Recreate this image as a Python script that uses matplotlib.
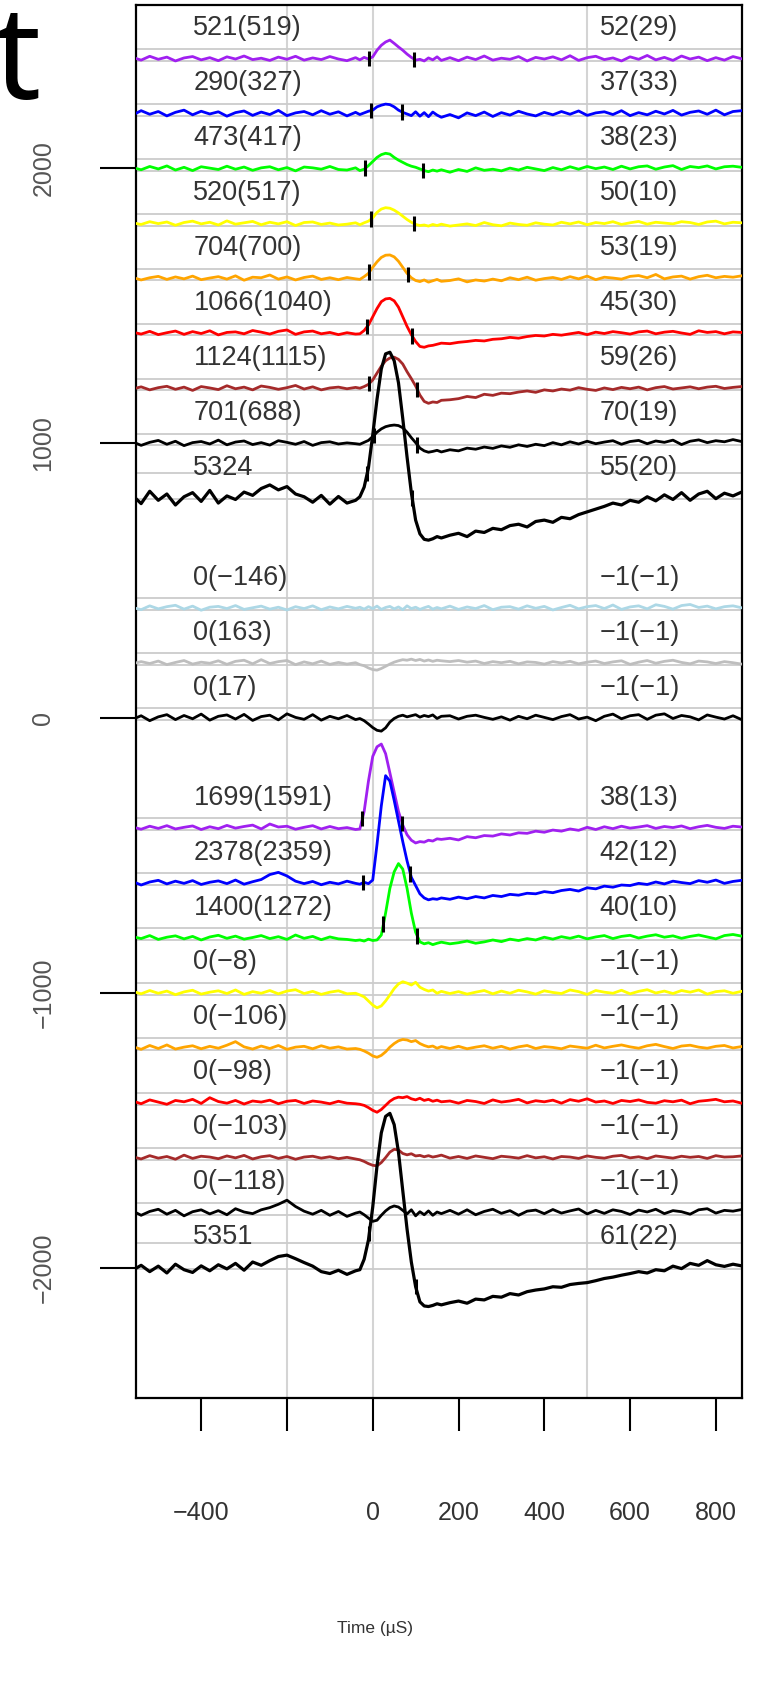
import matplotlib
matplotlib.use('Agg')
import matplotlib.pyplot as plt
import numpy as np

plt.rcParams['font.family'] = ['Liberation Sans', 'DejaVu Sans']

# time axis (uS): 20 uS steps away from the response, 10 uS steps around it
time = np.concatenate([np.arange(-560, -39, 20), np.arange(-30, 161, 10), np.arange(180, 861, 20)])

# vertical offset of every trace, top to bottom
offsets = [2400, 2200, 2000, 1800, 1600, 1400, 1200, 1000, 800, 400, 200, 0,
           -400, -600, -800, -1000, -1200, -1400, -1600, -1800, -2000]

colors = ['#A020F0', '#0000FF', '#00FF00', '#FFFF00', '#FFA500', '#FF0000', '#A52A2A', 'black', 'black',
          '#ADD8E6', '#BEBEBE', 'black',
          '#A020F0', '#0000FF', '#00FF00', '#FFFF00', '#FFA500', '#FF0000', '#A52A2A', 'black', 'black']

left_labels = ['521(519)', '290(327)', '473(417)', '520(517)', '704(700)', '1066(1040)', '1124(1115)',
               '701(688)', '5324', '0(−146)', '0(163)', '0(17)', '1699(1591)', '2378(2359)',
               '1400(1272)', '0(−8)', '0(−106)', '0(−98)', '0(−103)', '0(−118)', '5351']
right_labels = ['52(29)', '37(33)', '38(23)', '50(10)', '53(19)', '45(30)', '59(26)', '70(19)', '55(20)',
                '−1(−1)', '−1(−1)', '−1(−1)', '38(13)', '42(12)', '40(10)', '−1(−1)', '−1(−1)',
                '−1(−1)', '−1(−1)', '−1(−1)', '61(22)']

# onset / offset marks (uS), None where no response was detected
marks = [(-8, 97), (-3, 69), (-17, 118), (-3, 97), (-8, 83), (-13, 92), (-8, 104), (3, 104), (-13, 92),
         None, None, None,
         (-24, 69), (-22, 88), (25, 104), None, None, None, None, None, (-8, 100)]

# traces, relative to their offset
purple_1 = [4, -6, 8, -3, 5, -9, 2, 7, -5, 3, -8, 6, -2, 9, -4, 1, -7, 5, -3, 8, -6, 2, -4, 7, -2, -8, 3,
            -5, 4, -2, 6, 30, 48, 60, 67, 55, 42, 30, 16, 4, -6, -3, -9, 2, -5, 6, -7,
            3, -8, 5, -4, 9, -6, 1, -3, 7, -9, 4, -2, 6, -5, 10, -7, 3, 8, -4, 2, -9, 6, -3, 11, -5, 4, -7, 9,
            -2, 5, -8, 3, -6, 7, -1]
blue_1 = [-6, 10, -3, 7, -9, 4, 12, -5, 8, -2, 6, -10, 3, 9, -7, 5, -4, 11, -8, 2, 7, -5, 10, -3, 6, -9, 4,
          -4, 2, 8, 12, 24, 30, 34, 32, 24, 12, 4, -2, -8, 6, -10, 3, -12, 5, -6, -14,
          -4, -16, 2, -8, 5, -11, 3, -6, 8, -2, -9, 4, -5, 7, -3, 9, -7, 2, 6, -4, 10, -8, 3, -5, 8, -2, 11,
          -6, 4, 9, -3, 12, -5, 7, 10]
green_1 = [3, -5, 7, -2, 9, -6, 4, -8, 6, 1, -4, 8, -3, 5, -7, 2, 6, -5, 3, -9, 5, 2, -3, 7, -4, -6, 2,
           -8, -3, 10, 25, 40, 50, 55, 52, 40, 30, 22, 14, 8, 4, -2, -8, -12, -6, -10, -5,
           -14, -4, -11, 2, -7, -3, -9, 1, -6, 4, -2, -8, 3, -5, 6, -3, 7, -1, 5, -4, 8, -2, 6, 9, -3, 5, 10,
           -4, 7, 3, 9, -2, 6, 8, 4]
yellow_1 = [2, -4, 6, -1, 5, -7, 3, 8, -2, 4, -6, 9, -3, 2, 7, -5, 4, -2, 6, -8, 3, 5, -4, 1, -6, -3, 2,
            -5, 2, 8, 20, 40, 52, 57, 55, 48, 38, 26, 14, 4, -4, -8, -6, -10, -4, -8, -3,
            -10, -6, -2, -8, 3, -5, -9, 1, -4, -7, 2, -3, -6, 4, -2, 5, -5, 3, -1, 6, -4, 2, 7, -3, 4, 1, -2,
            6, 3, -4, 5, 8, -2, 4, 2]
orange_1 = [3, -6, 2, 7, -4, 5, -2, 8, -5, 1, 6, -3, 9, -7, 4, 2, 12, -3, 5, -6, 3, 8, -4, 2, -5, 3, -2,
            -4, 6, 18, 40, 60, 76, 84, 85, 78, 62, 40, 18, 2, -8, -12, -6, -14, -9, -4, -11,
            -8, -2, -13, -6, -10, -3, -9, 2, -5, 4, -7, -1, 3, -4, 6, -2, 8, -5, 4, 1, -3, 7, 10, 2, 14, -2, 5,
            8, -3, 6, 11, 2, 7, 4, 9]
red_1 = [4, -3, 7, -5, 2, 8, -4, 6, -1, 9, -6, 3, 5, -2, 10, 4, -3, 7, 12, -4, 5, 8, -2, 3, -5, 2, -3,
         -2, 10, 30, 60, 90, 115, 125, 127, 118, 95, 60, 25, -5, -30, -48, -51, -46, -44, -40, -36,
         -38, -33, -30, -26, -28, -22, -20, -15, -18, -12, -8, -10, -4, -7, -2, 3, -5, 4, -1, 6, 2, -3, 5, 8,
         -2, 4, 7, 1, -4, 9, 3, 6, -2, 5, 3]
brown_1 = [-3, 5, -6, 2, 7, -4, 4, -8, 6, 1, -5, 9, -2, 4, -6, 8, 3, -4, 2, 10, -3, 5, -6, 1, 4, -2, 3,
           0, 6, 14, 30, 55, 80, 100, 110, 113, 105, 88, 60, 35, 8, -25, -48, -55, -50, -52, -44,
           -42, -38, -30, -34, -22, -26, -18, -20, -14, -10, -15, -6, -10, -3, -7, 2, -4, -8, 1, -5, 3, -2, 4,
           -6, 2, 6, -3, 1, 5, -2, 4, 7, -1, 3, 6]
black_1 = [5, -8, 3, 10, -4, 7, -9, 2, 6, -3, 11, -6, 4, 8, -5, 2, -7, 9, 3, -4, 6, -8, 2, 5, -3, 1, -2,
           -4, 3, 10, 24, 40, 52, 60, 64, 66, 64, 56, 40, 20, 2, -18, -28, -33, -30, -26, -32,
           -24, -28, -18, -22, -14, -19, -10, -15, -6, -12, -4, -9, 2, -6, 5, -3, 7, -2, 4, 9, -4, 6, 10, -2,
           8, 3, 11, -5, 7, 12, 2, 9, 5, 13, 6]
sum_1 = [10, -20, 25, -8, 15, -25, 5, 20, -12, 28, -18, 8, -5, 22, 10, 35, 48, 30, 42, 15, 5, -15, 10, -22, 6,
         -18, -8,
         5, 40, 110, 230, 360, 470, 525, 531, 500, 420, 290, 150, 20, -80, -130, -150, -153, -148, -140, -145,
         -135, -128, -140, -120, -125, -110, -115, -100, -95, -105, -85, -80, -88, -70, -75, -60, -50, -40,
         -30, -18, -25, -8, -15, 5, -10, 12, -5, 20, -8, 15, 25, -2, 18, 8, 22]
lightblue_0 = [2, -6, 8, -3, 5, 10, -4, 7, -8, 3, 6, -2, 9, -5, 1, 7, -4, 3, -7, 5, -2, 8, -6, 4, -3, 6, -1,
               3, -4, 5, -2, 7, -5, 2, 6, -3, 4, -6, 8, -2, 3, -5, 1, 6, -4, 2, -3,
               7, -5, 4, -2, 9, -6, 3, 5, -4, 8, -1, 6, -7, 2, 10, -3, 5, 9, -2, 11, -5, 4, 8, -3, 12, 6, -4,
               9, 13, 2, 7, -3, 5, 8, 1]
grey_0 = [-3, 5, -2, 7, -6, 2, 9, -4, 3, -1, 8, -5, 6, 10, -3, 12, -2, 5, 9, -6, 4, -3, 7, -5, 2, -4, 1,
          -6, -10, -18, -24, -26, -20, -12, -4, 3, 8, 12, 10, 14, 9, 13, 7, 11, 6, 10, 8,
          5, 9, 3, 7, -2, 5, 1, 6, -3, 4, 2, -4, 5, 0, 6, -3, 3, 7, -2, 4, 8, -5, 3, 9, -1, 6, 10, 2, -3,
          7, 4, -2, 5, 1, -4]
black_0 = [-5, 8, -10, 4, 12, -6, 9, -3, 14, -8, 6, 11, -4, 13, -9, 5, 10, -7, 15, 2, -5, 12, -8, 6, -3, 9, -6,
           -2, -10, -22, -35, -45, -48, -36, -15, -2, 6, 10, 4, 8, 12, 3, 9, 5, 11, -2, 6,
           8, -4, 6, 10, 2, -5, 4, -8, 6, -3, 10, 2, -6, 5, 12, -4, 3, -10, 6, 14, -3, 8, 12, -5, 10, 15, -2,
           9, 4, -7, 11, 3, -4, 8, -6]
purple_2 = [3, -5, 6, -2, 8, -4, 2, 7, -6, 4, -3, 9, -1, 5, 10, -4, 14, 3, 6, -5, 2, 8, -4, 5, -3, 1, -6,
            -4, 60, 170, 260, 295, 305, 270, 200, 130, 60, 10, -25, -45, -55, -50, -52, -45, -48, -40, -42,
            -38, -44, -32, -36, -28, -30, -22, -26, -18, -20, -12, -16, -8, -12, -4, -9, 2, -6, 4, -3, 6, -1,
            3, 8, -2, 5, 1, 7, -3, 4, 9, 2, -2, 6, 3]
blue_2 = [5, -8, 3, 9, -4, 6, -2, 8, -6, 2, 7, -3, 10, -5, 4, 12, 30, 38, 25, 6, -3, 5, -7, 2, -4, 6, -2,
          -5, 2, -3, 10, 140, 280, 390, 370, 300, 225, 150, 80, 20, -10, -40, -55, -62, -58, -60, -55,
          -60, -52, -58, -50, -55, -46, -50, -42, -45, -38, -40, -32, -36, -28, -24, -30, -18, -22, -12, -16,
          -8, -10, -2, -6, 3, -4, 6, 1, -3, 8, 2, 10, -2, 5, 9]
green_2 = [4, -3, 8, -6, 2, 7, -4, 5, -8, 3, 9, -2, 6, -5, 1, 8, -3, 4, -6, 10, -2, 5, -7, 3, -4, -6, -10,
           -8, -12, -5, -10, -8, 10, 90, 180, 240, 270, 250, 180, 90, 20, -15, -22, -18, -25, -20, -16,
           -22, -18, -12, -20, -15, -8, -14, -5, -10, -3, -8, 2, -5, 4, -2, 6, -4, 3, 8, -3, 5, 9, -1, 6, 11,
           2, 7, -2, 5, 10, 3, -4, 8, 12, 6]
yellow_2 = [5, -4, 8, -2, 6, -7, 3, 9, -5, 2, 7, -3, 10, -6, 4, -2, 8, -4, 6, 11, -3, 5, -6, 2, 7, -4, -2,
            -8, -15, -30, -45, -55, -48, -30, -8, 15, 32, 40, 35, 28, 38, 20, 12, 6, 10, -2, 5,
            -3, 4, -5, 2, 8, -4, 6, -2, 9, 3, -5, 7, 1, -3, 10, 4, -6, 8, 2, -2, 9, -4, 5, 11, -1, 6, -3, 8,
            2, 10, -5, 4, 7, -2, 5]
orange_2 = [4, -6, 8, -3, 10, -5, 2, 7, -4, 5, -2, 9, 22, 3, -5, 6, -3, 8, -6, 2, 5, -4, 7, -2, 3, -5, -3,
            -6, -12, -20, -30, -35, -28, -15, 2, 15, 25, 30, 28, 22, 26, 15, 8, 3, 6, -2, 4,
            -3, 5, -4, 2, 7, -2, 5, -5, 3, 8, -3, 4, 1, -4, 6, 2, -2, 9, -1, 5, 10, 3, -2, 7, 12, 4, -3, 6,
            9, 2, -2, 5, 8, -1, 4]
red_2 = [6, -4, 10, 2, -6, 8, 3, 12, -3, 18, 4, -2, 8, -5, 6, 2, 9, -4, 5, 8, -3, 6, 2, -4, 5, -2, -4,
         -6, -10, -18, -28, -35, -25, -10, 5, 15, 20, 18, 22, 14, 10, 16, 8, 12, 5, 9, 3,
         6, -2, 8, 4, -3, 10, 2, 6, 12, -1, 7, 3, 9, -2, 11, 5, 14, 2, 6, -3, 8, 4, 10, 1, -2, 7, 3, 9, -4,
         5, 8, 12, 3, 6, -2]
brown_2 = [3, -5, 7, -2, 4, -6, 9, -3, 5, 2, -4, 6, -1, 8, -5, 3, 7, -3, 4, -6, 2, 5, -2, 3, -4, 1, -5,
           -8, -14, -22, -28, -30, -18, 0, 20, 30, 28, 15, 10, 14, 6, 8, 3, 7, 2, 5, 9,
           -2, 4, -3, 6, 1, -4, 5, 2, -2, 7, -1, 3, -5, 4, 2, -3, 6, 1, -2, 5, 8, -1, 3, -4, 6, 2, -2, 5, 1,
           4, -3, 7, 2, 3, 6]
black_2 = [6, -10, 4, 12, -6, 8, -12, 3, 10, -5, 7, -8, 14, 2, -4, 10, 18, 30, 45, 22, 5, -6, 8, -10, 4, -14,
           -2,
           2, -8, -20, -32, -28, -10, 6, 18, 24, 20, 8, -5, 10, -12, 3, -8, 6, -10, 2, -4,
           8, -6, 10, -8, 4, 12, -3, 7, -10, 5, 9, -4, 11, -2, 6, 13, -5, 8, -3, 10, 4, -7, 9, 2, 12, -4, 7,
           3, -6, 10, 14, -2, 8, 5, 11]
sum_2 = [-10, 8, -15, 5, -20, 12, -8, -18, 6, -12, 10, -5, 15, -10, 20, 8, 25, 40, 45, 32, 18, 5, -15, -22,
         -10, -25, -12,
         -8, 30, 100, 220, 370, 490, 550, 561, 520, 420, 280, 140, 20, -70, -125, -140, -142, -138, -132, -136,
         -128, -122, -130, -115, -118, -105, -108, -95, -100, -88, -82, -78, -70, -72, -62, -58, -55, -48,
         -40, -35, -28, -22, -15, -20, -8, -12, 5, -4, 15, 8, 25, 10, 4, 12, 6]

traces = [purple_1, blue_1, green_1, yellow_1, orange_1, red_1, brown_1, black_1, sum_1,
          lightblue_0, grey_0, black_0,
          purple_2, blue_2, green_2, yellow_2, orange_2, red_2, brown_2, black_2, sum_2]

# grey guide lines around each trace (relative to offset)
guide_hi = [35] * 8 + [90] + [35] * 11 + [90]
guide_lo = [-8] * 8 + [-5] + [-8] * 11 + [-5]

fig = plt.figure(figsize=(7.58, 17.02), dpi=100)
ax = fig.add_axes([0.1794, 0.1786, 0.7995, 0.8182])

for xv in [-200, 0, 500]:
    ax.axvline(xv, color='#d4d4d4', lw=1.5, zorder=0)

for off, hi, lo in zip(offsets, guide_hi, guide_lo):
    ax.axhline(off + hi, color='#cccccc', lw=1.3, zorder=1)
    ax.axhline(off + lo, color='#cccccc', lw=1.3, zorder=1)

for i in range(len(traces)):
    vals = np.array(traces[i])
    off = offsets[i]
    lw = 2.3 if guide_hi[i] == 90 else 2.0
    ax.plot(time, vals + off, color=colors[i], lw=lw, zorder=3)
    if marks[i] is not None:
        for t in marks[i]:
            y0 = np.interp(t, time, vals) + off
            ax.plot([t, t], [y0 - 28, y0 + 28], color='black', lw=2.2, solid_capstyle='butt', zorder=4)
    ax.text(-418, off + 110, left_labels[i], ha='left', va='center', fontsize=19.5, color='#333333', zorder=5)
    ax.text(529, off + 110, right_labels[i], ha='left', va='center', fontsize=19.5, color='#333333', zorder=5)

ax.set_xlim(-552, 861)
ax.set_ylim(-2475, 2593)

ax.set_xticks([-400, -200, 0, 200, 400, 600, 800])
ax.set_xticklabels(['−400', '', '0', '200', '400', '600', '800'])
ax.set_yticks([-2000, -1000, 0, 1000, 2000])
ax.set_yticklabels(['−2000', '−1000', '0', '1000', '2000'], rotation=90, va='center')
ax.tick_params(axis='x', length=24, width=1.5, pad=50, labelsize=18, labelcolor='#333333')
ax.tick_params(axis='y', length=26, width=1.5, pad=32, labelsize=18, labelcolor='#555555')

for s in ax.spines.values():
    s.set_linewidth(1.6)

fig.text(375 / 758, 1 - 1629 / 1702, 'Time (µS)', fontsize=12.5, ha='center', va='center', color='#333333')
# fragment of a title cut by the left edge of the image
fig.text(-6 / 758, 1 - 99 / 1702, 't', fontsize=94, family='Noto Sans', va='baseline', ha='left')

fig.savefig('out.png', dpi=100)
